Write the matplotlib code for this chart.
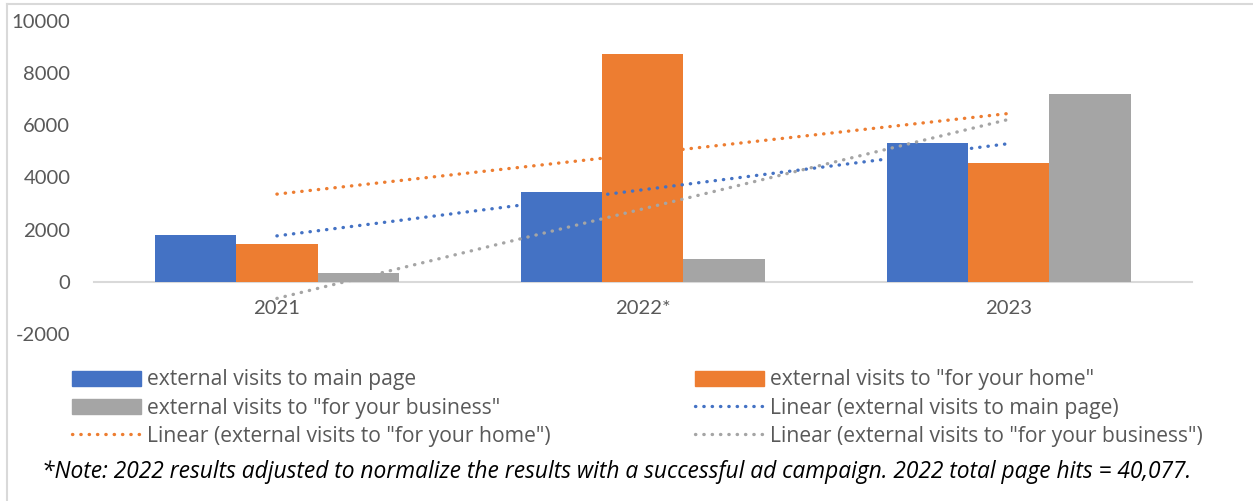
import numpy as np
import matplotlib.pyplot as plt
from matplotlib.lines import Line2D
from matplotlib.patches import Patch

plt.rcParams['font.family'] = ['Lato', 'DejaVu Sans']
plt.rcParams['axes.unicode_minus'] = False

years = ['2021', '2022*', '2023']
main_page = [1800, 3450, 5335]
for_home = [1450, 8730, 4540]
for_business = [320, 885, 7180]

series_names = ['external visits to main page',
                'external visits to "for your home"',
                'external visits to "for your business"']
colors = ['#4472C4', '#ED7D31', '#A5A5A5']
text_gray = '#595959'

fig = plt.figure(figsize=(12.53, 5.01), dpi=100)
ax = fig.add_axes([0.075, 0.3333, 0.876, 0.625])

x = np.arange(len(years))
width = 0.222
all_series = [main_page, for_home, for_business]

for i, (vals, c) in enumerate(zip(all_series, colors)):
    ax.bar(x + (i - 1) * width, vals, width, color=c, zorder=2)

# linear trendlines through each series
for vals, c in zip(all_series, colors):
    slope, icpt = np.polyfit(x, vals, 1)
    ax.plot(x, slope * x + icpt, color=c, lw=2.4,
            linestyle=(0, (0.1, 2.4)), dash_capstyle='round', zorder=3)

ax.set_xlim(-0.5, 2.5)
ax.set_ylim(-2000, 10000)
ax.set_yticks(range(-2000, 10001, 2000))
ax.set_xticks(x)
ax.set_xticklabels(years)

for s in ['left', 'right', 'top']:
    ax.spines[s].set_visible(False)
ax.spines['bottom'].set_position(('data', 0))
ax.spines['bottom'].set_color('#D9D9D9')
ax.spines['bottom'].set_linewidth(1.5)
ax.spines['bottom'].set_zorder(1)
ax.tick_params(axis='both', length=0, labelsize=14.6, labelcolor=text_gray)
ax.tick_params(axis='y', pad=17)
ax.tick_params(axis='x', pad=13)

# legend in two separate columns
def dot_handle(c):
    return Line2D([], [], color=c, lw=2.4, linestyle=(0, (0.1, 2.4)),
                  dash_capstyle='round')

col1 = [(Patch(color=colors[0]), series_names[0]),
        (Patch(color=colors[2]), series_names[2]),
        (dot_handle(colors[1]), 'Linear (' + series_names[1] + ')')]
col2 = [(Patch(color=colors[1]), series_names[1]),
        (dot_handle(colors[0]), 'Linear (' + series_names[0] + ')'),
        (dot_handle(colors[2]), 'Linear (' + series_names[2] + ')')]

for col, xpos in [(col1, 72 / 1253), (col2, 695 / 1253)]:
    leg = fig.legend([h for h, _ in col], [t for _, t in col],
                     loc='upper left', bbox_to_anchor=(xpos, 1 - 369.5 / 501),
                     frameon=False, prop={'family': 'Open Sans', 'size': 15.2},
                     handlelength=3.25, handleheight=0.7, handletextpad=0.3,
                     labelspacing=0.34, borderpad=0, borderaxespad=0)
    for t in leg.get_texts():
        t.set_color(text_gray)

fig.text(42 / 1253, 1 - 472 / 501,
         '*Note: 2022 results adjusted to normalize the results with a successful '
         'ad campaign. 2022 total page hits = 40,077.',
         family='Open Sans', fontsize=16.4, style='italic', color='black',
         va='center', ha='left')

# light frame on the left and top
fig.add_artist(Line2D([7 / 1253, 7 / 1253], [0, 1 - 4 / 501],
                      transform=fig.transFigure, color='#D9D9D9', lw=1.5))
fig.add_artist(Line2D([7 / 1253, 1], [1 - 4 / 501, 1 - 4 / 501],
                      transform=fig.transFigure, color='#D9D9D9', lw=1.5))

fig.savefig('out.png', dpi=100)
